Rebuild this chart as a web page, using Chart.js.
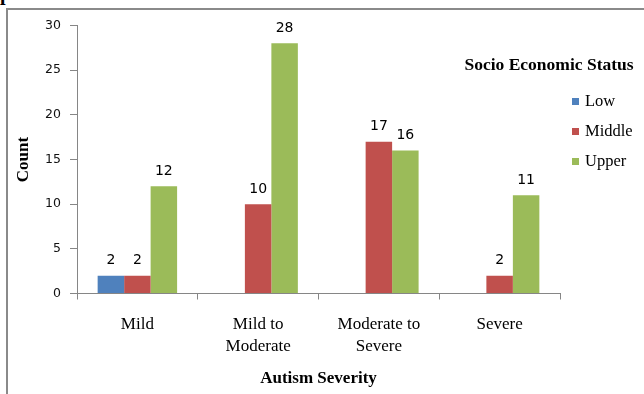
<!DOCTYPE html>
<html>
<head>
<meta charset="utf-8">
<script src="https://cdn.jsdelivr.net/npm/chart.js@4.4.0/dist/chart.umd.min.js"></script>
<style>
html,body{margin:0;padding:0;background:#fff;width:644px;height:394px;overflow:hidden;}
#caption{position:absolute;left:0;top:-17px;font:bold 20px "Liberation Serif",serif;line-height:20px;color:#000;white-space:nowrap;}
#frame{position:absolute;left:6px;top:8px;width:660px;height:400px;border-left:2px solid #8a8a8a;border-top:2px solid #8a8a8a;box-sizing:border-box;}
#c{position:absolute;left:0;top:0;}
</style>
</head>
<body>
<div id="caption">patients.</div>
<div id="frame"></div>
<canvas id="c" width="644" height="394"></canvas>
<script>
// Counts of children by autism severity, split by socio economic status
const categories = ['Mild', ['Mild to', 'Moderate'], ['Moderate to', 'Severe'], 'Severe'];
const seriesNames = ['Low', 'Middle', 'Upper'];
const lowCounts = [2, 0, 0, 0];
const middleCounts = [2, 10, 17, 2];
const upperCounts = [12, 28, 16, 11];
const yTickValues = [0, 5, 10, 15, 20, 25, 30];
const legendTitle = 'Socio Economic Status';
const xTitle = 'Autism Severity';
const yTitle = 'Count';

const seriesColors = ['#4F81BD', '#C0504D', '#9BBB59'];
const seriesData = [lowCounts, middleCounts, upperCounts];

// Value written above every non-empty bar
const valueLabels = {
  id: 'valueLabels',
  afterDatasetsDraw(chart) {
    const ctx = chart.ctx;
    ctx.save();
    ctx.font = '14px "DejaVu Sans"';
    ctx.fillStyle = '#000';
    ctx.textAlign = 'center';
    ctx.textBaseline = 'alphabetic';
    chart.data.datasets.forEach((ds, i) => {
      const meta = chart.getDatasetMeta(i);
      meta.data.forEach((bar, j) => {
        const v = ds.data[j];
        if (!v) return;
        ctx.fillText(String(v), bar.x, bar.y - 11.5);
      });
    });
    ctx.restore();
  }
};

// Legend with a title, placed at the upper right
const sideLegend = {
  id: 'sideLegend',
  afterDraw(chart) {
    const ctx = chart.ctx;
    ctx.save();
    ctx.fillStyle = '#000';
    ctx.font = 'bold 17.5px "Liberation Serif"';
    ctx.textAlign = 'center';
    ctx.textBaseline = 'middle';
    ctx.fillText(legendTitle, 549, 65);
    ctx.font = '16.5px "Liberation Serif"';
    ctx.textAlign = 'left';
    chart.data.datasets.forEach((ds, i) => {
      const y = 101.7 + i * 30;
      ctx.fillStyle = ds.backgroundColor;
      ctx.fillRect(572, Math.round(y - 3.5), 7, 7);
      ctx.fillStyle = '#000';
      ctx.fillText(ds.label, 585, y);
    });
    ctx.restore();
  }
};

new Chart(document.getElementById('c'), {
  type: 'bar',
  data: {
    labels: categories,
    datasets: seriesNames.map((name, i) => ({
      label: name,
      data: seriesData[i],
      backgroundColor: seriesColors[i],
      borderWidth: 0
    }))
  },
  options: {
    responsive: false,
    animation: false,
    devicePixelRatio: 1,
    layout: { padding: { left: 0, top: 25.5, right: 84, bottom: 0 } },
    datasets: { bar: { categoryPercentage: 0.658, barPercentage: 1 } },
    plugins: { legend: { display: false }, tooltip: { enabled: false } },
    scales: {
      x: {
        grid: { offset: true, drawOnChartArea: false, drawTicks: true, tickLength: 6, color: '#868686' },
        border: { color: '#868686' },
        ticks: {
          font: { family: 'Liberation Serif', size: 17, lineHeight: 21.5 / 17 },
          color: '#000', padding: 14.5, maxRotation: 0, autoSkip: false
        },
        title: {
          display: true, text: xTitle, color: '#000',
          font: { family: 'Liberation Serif', size: 17, weight: 'bold', lineHeight: 1 },
          padding: { top: 0, bottom: 6.5 }
        },
        afterFit(s) { s.height = 100.5; }
      },
      y: {
        min: 0,
        max: 30,
        afterBuildTicks(s) { s.ticks = yTickValues.map(v => ({ value: v })); },
        grid: { drawOnChartArea: false, drawTicks: true, tickLength: 7, color: '#868686' },
        border: { color: '#868686' },
        ticks: { font: { family: 'DejaVu Sans', size: 12.5 }, color: '#111', padding: 9 },
        title: {
          display: true, text: yTitle, color: '#000',
          font: { family: 'Liberation Serif', size: 17, weight: 'bold', lineHeight: 1 },
          padding: { top: 15.5, bottom: 0 }
        },
        afterFit(s) { s.width = 77; }
      }
    }
  },
  plugins: [valueLabels, sideLegend]
});
</script>
</body>
</html>
